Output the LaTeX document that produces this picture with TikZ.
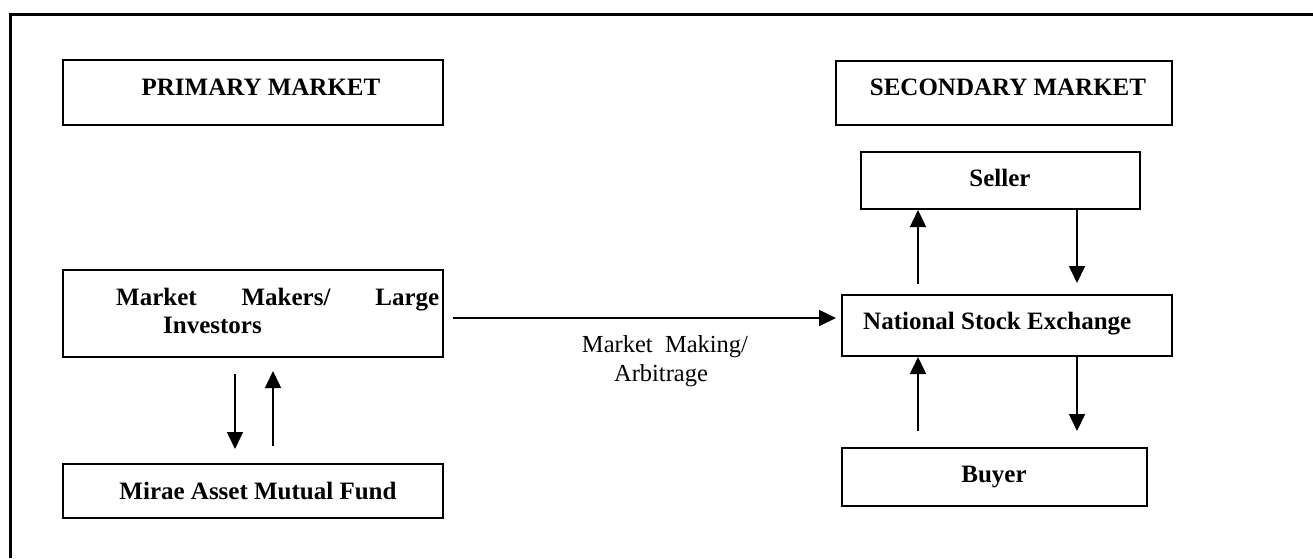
\documentclass[tikz,border=0pt]{standalone}
\usepackage{fontspec}
\setmainfont{Liberation Serif}
\usetikzlibrary{arrows.meta,calc}
\begin{document}
\begin{tikzpicture}[x=1pt,y=-1pt,
  box/.style={draw,line width=2pt,rectangle,inner sep=0pt},
  boldtxt/.style={font=\fontsize{25}{30}\selectfont\bfseries,inner sep=0pt,anchor=base},
  plaintxt/.style={font=\fontsize{24.5}{30}\selectfont,inner sep=0pt,anchor=base},
  arr/.style={line width=1.6pt,-{Triangle[length=17pt,width=16pt]}}]
\useasboundingbox (0,0) rectangle (1313,558);
% outer frame (top and left edges only)
\draw[line width=3pt] (1313,14.5) -- (10.5,14.5) -- (10.5,558);

% boxes
\node[box,minimum width=380pt,minimum height=65pt] (prim) at (253,92.5) {};
\node[box,minimum width=336pt,minimum height=64pt] (sec) at (1004,93) {};
\node[box,minimum width=279pt,minimum height=57pt] (seller) at (1000.5,180.5) {};
\node[box,minimum width=330pt,minimum height=61pt] (nse) at (1007,325.5) {};
\node[box,minimum width=305pt,minimum height=58pt] (buyer) at (994.5,477) {};
\node[box,minimum width=380pt,minimum height=87pt] (mm) at (253,313.5) {};
\node[box,minimum width=380pt,minimum height=54pt] (mirae) at (253,491) {};

% texts
\node[boldtxt] (primt) at (261,95) {PRIMARY MARKET};
\node[boldtxt] (sect) at (1008,95) {SECONDARY MARKET};
\node[boldtxt] (sellert) at (1000,186) {Seller};
\node[boldtxt,anchor=base west] (nset) at (863,329) {National Stock Exchange};
\node[boldtxt] (buyert) at (994,482) {Buyer};
\node[boldtxt] (miraet) at (258,499) {Mirae Asset Mutual Fund};
\node[boldtxt,anchor=base west] (mmt1) at (116,305) {\makebox[323pt][s]{Market Makers/ Large}};
\node[boldtxt,anchor=base west] (mmt2) at (163,333) {Investors};
\node[plaintxt] (lblA) at (665,352) {Market\ \ Making/};
\node[plaintxt] (lblB) at (661,381) {Arbitrage};

% connectors
\draw[arr] ($(mm.east)+(9,4.5)$) -- ($(nse.west)+(-5,-7.5)$);
\draw[arr] ($(mm.south west)+(173,16)$) -- ($(mirae.north west)+(173,-14)$);
\draw[arr] ($(mirae.north west)+(211,-17)$) -- ($(mm.south west)+(211,13)$);
\draw[arr] ($(nse.north west)+(77,-10)$) -- ($(seller.south west)+(58,0)$);
\draw[arr] ($(seller.south west)+(217,0)$) -- ($(nse.north west)+(236,-11)$);
\draw[arr] ($(buyer.north west)+(77,-16)$) -- ($(nse.south west)+(77,0)$);
\draw[arr] ($(nse.south west)+(236,0)$) -- ($(buyer.north west)+(236,-16)$);
\end{tikzpicture}
\end{document}
